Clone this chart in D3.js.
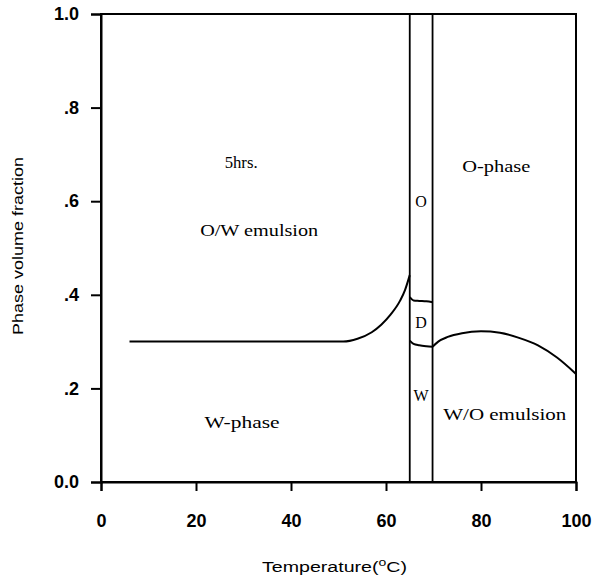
<!DOCTYPE html>
<html>
<head>
<meta charset="utf-8">
<script src="https://cdnjs.cloudflare.com/ajax/libs/d3/7.8.5/d3.min.js"></script>
<style>
    body { margin: 0; background: #fff; }
    .tick-label { font-family: 'Liberation Sans', Arial, sans-serif; font-size: 18px; font-weight: bold; }
    .axis-title { font-family: 'Liberation Sans', Arial, sans-serif; font-size: 14px; }
    .note { font-family: 'Liberation Serif', 'Times New Roman', serif; font-size: 16px; }
</style>
</head>
<body>
<svg id="chart" width="602" height="579"></svg>
<script>
(function () {
    'use strict';

    // tick labels
    var xTicks = [0, 20, 40, 60, 80, 100];
    var yTicks = [0, 0.2, 0.4, 0.6, 0.8, 1.0];
    var yTickLabels = ['0.0', '.2', '.4', '.6', '.8', '1.0'];

    // phase boundaries (temperature, volume fraction)
    var owBoundaryT = [6, 51, 54, 57, 59, 61, 63, 64, 65];
    var owBoundaryV = [0.30, 0.30, 0.306, 0.32, 0.336, 0.358, 0.388, 0.41, 0.442];

    var dTopT = [65, 65.8, 67, 68.5, 69.8];
    var dTopV = [0.395, 0.388, 0.387, 0.386, 0.384];

    var dBottomT = [65, 65.8, 67, 68.5, 69.8];
    var dBottomV = [0.302, 0.295, 0.292, 0.29, 0.289];

    var woBoundaryT = [69.8, 71, 73, 76, 80, 84, 88, 92, 96, 100];
    var woBoundaryV = [0.289, 0.300, 0.310, 0.318, 0.322, 0.319, 0.308, 0.292, 0.266, 0.231];

    // three-phase region edges
    var stripT = [65, 69.8];

    // region labels, w = printed width
    var labels = [
        { text: '5hrs.', t: 29.5, v: 0.683, w: 33 },
        { text: 'O/W  emulsion', t: 33.3, v: 0.538, w: 118 },
        { text: 'W-phase', t: 29.7, v: 0.128, w: 75 },
        { text: 'O-phase', t: 83.2, v: 0.674, w: 68 },
        { text: 'O', t: 67.4, v: 0.6 },
        { text: 'D', t: 67.4, v: 0.34 },
        { text: 'W', t: 67.4, v: 0.185 },
        { text: 'W/O emulsion', t: 85, v: 0.145, w: 123 }
    ];

    var margin = { left: 101, right: 26, top: 14, bottom: 97 };
    var width = 602 - margin.left - margin.right;
    var height = 579 - margin.top - margin.bottom;

    var svg = d3.select('#chart');
    var g = svg.append('g')
        .attr('transform', 'translate(' + margin.left + ',' + margin.top + ')');

    var x = d3.scaleLinear().domain([0, 100]).range([0, width]);
    var y = d3.scaleLinear().domain([0, 1]).range([height, 0]);

    // frame
    g.append('rect')
        .attr('x', 0).attr('y', 0)
        .attr('width', width).attr('height', height)
        .attr('fill', 'none')
        .attr('stroke', '#000')
        .attr('stroke-width', 2);

    var yAxis = d3.axisLeft(y)
        .tickValues(yTicks)
        .tickSize(10)
        .tickPadding(12)
        .tickFormat(function (d, i) { return yTickLabels[i]; });

    var xAxis = d3.axisBottom(x)
        .tickValues(xTicks)
        .tickSize(9)
        .tickPadding(23)
        .tickFormat(d3.format('d'));

    var ya = g.append('g').call(yAxis);
    var xa = g.append('g').attr('transform', 'translate(0,' + height + ')').call(xAxis);

    [ya, xa].forEach(function (a) {
        a.select('.domain').attr('stroke-width', 2);
        a.selectAll('.tick line').attr('stroke-width', 2);
        a.selectAll('.tick text')
            .attr('class', 'tick-label')
            .attr('fill', '#000')
            .attr('font-family', null)
            .attr('font-size', null);
    });

    // axis titles
    svg.append('text')
        .attr('class', 'axis-title')
        .attr('transform', 'translate(18,' + 246 + ') rotate(-90)')
        .attr('text-anchor', 'middle')
        .attr('dy', '0.35em')
        .attr('textLength', 178)
        .attr('lengthAdjust', 'spacingAndGlyphs')
        .text('Phase volume fraction');

    var xt = svg.append('text')
        .attr('class', 'axis-title')
        .attr('x', 262)
        .attr('y', 572)
        .attr('textLength', 145)
        .attr('lengthAdjust', 'spacingAndGlyphs');
    xt.append('tspan').text('Temperature(');
    xt.append('tspan').attr('font-size', '10px').attr('dy', '-6').text('o');
    xt.append('tspan').attr('dy', '6').text('C)');

    // vertical strip lines
    g.selectAll('.strip')
        .data(stripT)
        .enter().append('line')
        .attr('class', 'strip')
        .attr('x1', function (d) { return x(d); })
        .attr('x2', function (d) { return x(d); })
        .attr('y1', y(0))
        .attr('y2', y(1))
        .attr('stroke', '#000')
        .attr('stroke-width', 1.8);

    var line = d3.line()
        .x(function (d) { return x(d[0]); })
        .y(function (d) { return y(d[1]); })
        .curve(d3.curveMonotoneX);

    [[owBoundaryT, owBoundaryV], [dTopT, dTopV], [dBottomT, dBottomV], [woBoundaryT, woBoundaryV]]
        .forEach(function (s) {
            g.append('path')
                .datum(d3.zip(s[0], s[1]))
                .attr('d', line)
                .attr('fill', 'none')
                .attr('stroke', '#000')
                .attr('stroke-width', 2);
        });

    g.selectAll('.note')
        .data(labels)
        .enter().append('text')
        .attr('class', 'note')
        .attr('x', function (d) { return x(d.t); })
        .attr('y', function (d) { return y(d.v); })
        .attr('text-anchor', 'middle')
        .attr('dy', '0.35em')
        .attr('textLength', function (d) { return d.w || null; })
        .attr('lengthAdjust', function (d) { return d.w ? 'spacingAndGlyphs' : null; })
        .text(function (d) { return d.text; });
}());
</script>
</body>
</html>
